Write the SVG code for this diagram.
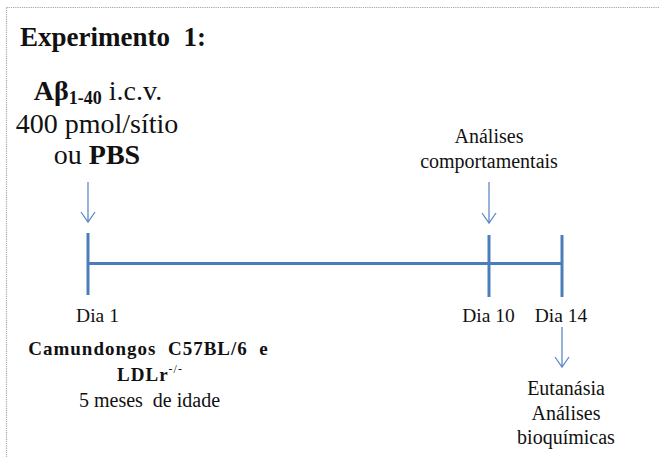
<svg xmlns="http://www.w3.org/2000/svg" width="659" height="457" viewBox="0 0 659 457">
<style>
  text { font-family: "Liberation Serif", "Times New Roman", serif; fill: #111; }
  .b { font-weight: bold; }
  .tl { stroke: #4a7ebb; stroke-width: 3; fill: none; }
  .ar { stroke: #5b8cc8; stroke-width: 1.3; fill: none; }
  .frame { stroke: #a6a6a6; stroke-width: 1.2; stroke-dasharray: 1.2 1; fill: none; }
</style>
<rect x="0" y="0" width="659" height="457" fill="#ffffff"/>
<g id="frame">
  <path class="frame" d="M6.5 7.5 H659 M6.5 7.5 V457"/>
</g>
<g id="title">
  <text class="b" x="20" y="46" font-size="27" xml:space="preserve">Experimento  1:</text>
</g>
<g id="treatment">
  <text x="98" y="100" font-size="28" text-anchor="middle"><tspan class="b">Aβ</tspan><tspan class="b" font-size="18" dy="4">1-40</tspan><tspan dy="-4"> i.c.v.</tspan></text>
  <text x="97" y="133" font-size="28" text-anchor="middle">400 pmol/sítio</text>
  <text x="97" y="164" font-size="28" text-anchor="middle">ou <tspan class="b">PBS</tspan></text>
</g>
<g id="behaviour">
  <text x="489" y="143" font-size="20" text-anchor="middle">Análises</text>
  <text x="489" y="168" font-size="20" text-anchor="middle">comportamentais</text>
</g>
<g id="timeline">
  <line class="tl" x1="88" y1="233" x2="88" y2="295"/>
  <line class="tl" x1="88" y1="263.5" x2="562" y2="263.5"/>
  <line class="tl" x1="489" y1="235" x2="489" y2="297"/>
  <line class="tl" x1="562" y1="235" x2="562" y2="297"/>
</g>
<g id="connectors">
  <path class="ar" d="M88 182 V222 M81 212 L88 222 L95 212"/>
  <path class="ar" d="M489 182 V223 M482 213 L489 223 L496 213"/>
  <path class="ar" d="M562 327 V367 M555 357 L562 367 L569 357"/>
</g>
<g id="day1">
  <text x="97.5" y="322" font-size="19.5" text-anchor="middle">Dia 1</text>
</g>
<g id="day10">
  <text x="488.5" y="322" font-size="19.5" text-anchor="middle">Dia 10</text>
</g>
<g id="day14">
  <text x="561" y="322" font-size="19.5" text-anchor="middle">Dia 14</text>
</g>
<g id="mice">
  <text class="b" x="148.5" y="355" font-size="19" letter-spacing="1" text-anchor="middle" xml:space="preserve">Camundongos  C57BL/6  e</text>
  <text class="b" x="150" y="381" font-size="19" letter-spacing="1" text-anchor="middle">LDLr<tspan font-size="12" font-weight="normal" dy="-8">-/-</tspan></text>
  <text x="149.5" y="407" font-size="20" text-anchor="middle" xml:space="preserve">5 meses  de idade</text>
</g>
<g id="end">
  <text x="566" y="395" font-size="20" text-anchor="middle">Eutanásia</text>
  <text x="566" y="420" font-size="20" text-anchor="middle">Análises</text>
  <text x="566" y="444" font-size="20" text-anchor="middle">bioquímicas</text>
</g>
</svg>
